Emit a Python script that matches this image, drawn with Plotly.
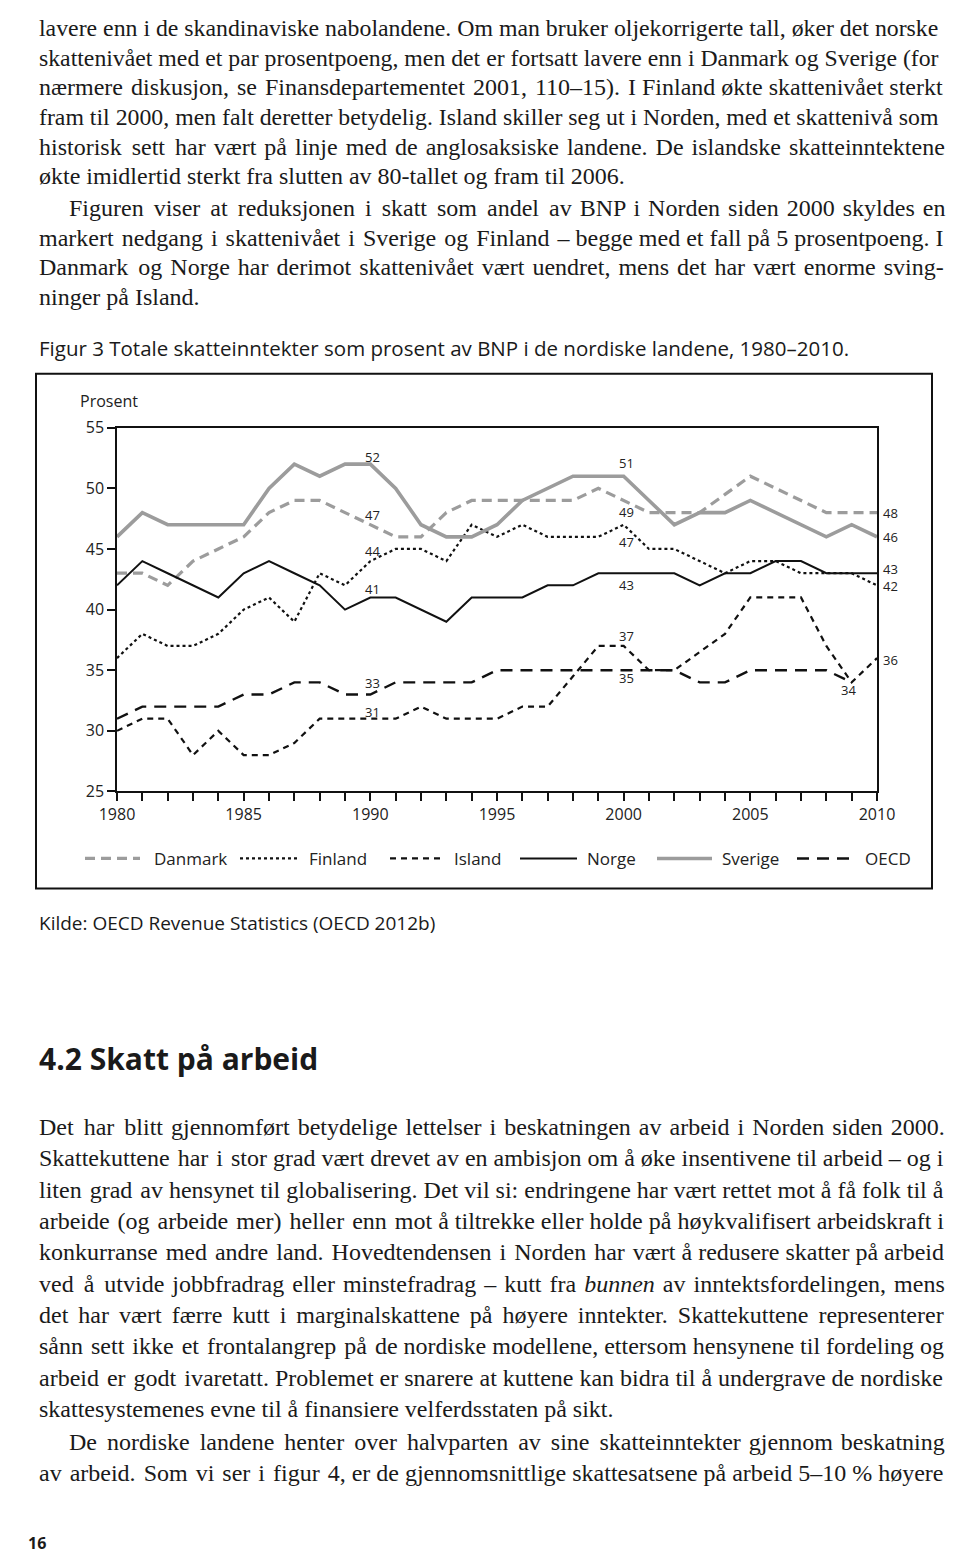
import plotly.graph_objects as go

W, H = 960, 1553

years = list(range(1980, 2011))

danmark = [43, 43, 42, 44, 45, 46, 48, 49, 49, 48, 47, 46, 46, 48, 49, 49, 49, 49, 49, 50,
           49, 48, 48, 48, 49.5, 51, 50, 49, 48, 48, 48]
finland = [36, 38, 37, 37, 38, 40, 41, 39, 43, 42, 44, 45, 45, 44, 47, 46, 47, 46, 46, 46,
           47, 45, 45, 44, 43, 44, 44, 43, 43, 43, 42]
island = [30, 31, 31, 28, 30, 28, 28, 29, 31, 31, 31, 31, 32, 31, 31, 31, 32, 32, 34.5, 37,
          37, 35, 35, 36.5, 38, 41, 41, 41, 37, 34, 36]
norge = [42, 44, 43, 42, 41, 43, 44, 43, 42, 40, 41, 41, 40, 39, 41, 41, 41, 42, 42, 43,
         43, 43, 43, 42, 43, 43, 44, 44, 43, 43, 43]
sverige = [46, 48, 47, 47, 47, 47, 50, 52, 51, 52, 52, 50, 47, 46, 46, 47, 49, 50, 51, 51,
           51, 49, 47, 48, 48, 49, 48, 47, 46, 47, 46]
oecd = [31, 32, 32, 32, 32, 33, 33, 34, 34, 33, 33, 34, 34, 34, 34, 35, 35, 35, 35, 35,
        35, 35, 35, 34, 34, 35, 35, 35, 35, 34, None]

series_names = ["Danmark", "Finland", "Island", "Norge", "Sverige", "OECD"]
series_values = [danmark, finland, island, norge, sverige, oecd]
series_styles = [
    dict(color="#9c9c9c", width=3.2, dash="10px,6px"),
    dict(color="#111111", width=2.2, dash="3px,3px"),
    dict(color="#111111", width=2.2, dash="6px,5px"),
    dict(color="#111111", width=2.0, dash="solid"),
    dict(color="#9c9c9c", width=3.6, dash="solid"),
    dict(color="#111111", width=2.4, dash="12px,8px"),
]

x_ticks = [1980, 1985, 1990, 1995, 2000, 2005, 2010]
y_ticks = [25, 30, 35, 40, 45, 50, 55]

value_labels = [
    ("Sverige", 1990, 2, 7, "center"),
    ("Danmark", 1990, 2, 10, "center"),
    ("Finland", 1990, 2, 10, "center"),
    ("Norge", 1990, 2, 8, "center"),
    ("OECD", 1990, 2, 11, "center"),
    ("Island", 1990, 2, 7, "center"),
    ("Sverige", 2000, 3, 13, "center"),
    ("Danmark", 2000, 3, -12, "center"),
    ("Finland", 2000, 3, -17, "center"),
    ("Norge", 2000, 3, -12, "center"),
    ("Island", 2000, 3, 10, "center"),
    ("OECD", 2000, 3, -8, "center"),
    ("Danmark", 2010, 4, 0, "left"),
    ("Sverige", 2010, 4, 0, "left"),
    ("Norge", 2010, 4, 4, "left"),
    ("Finland", 2010, 4, -1, "left"),
    ("Island", 2010, 4, -2, "left"),
    ("OECD", 2009, -3, -8, "center"),
]

# legend layout (picture pixels): sample start, sample end, text start
legend_pos = [(85, 140, 152), (240, 300, 307), (390, 445, 452),
              (520, 577, 585), (657, 712, 720), (797, 855, 863)]
LEGEND_Y = 858

# (x, y, text, justify) in picture pixels
text_top = [
    (37, 13, "lavere enn i de skandinaviske nabolandene. Om man bruker oljekorrigerte tall, øker det norske", True),
    (37, 44, "skattenivået med et par prosentpoeng, men det er fortsatt lavere enn i Danmark og Sverige (for", True),
    (37, 75, "nærmere diskusjon, se Finansdepartementet 2001, 110–15). I Finland økte skattenivået sterkt", True),
    (37, 106, "fram til 2000, men falt deretter betydelig. Island skiller seg ut i Norden, med et skattenivå som", True),
    (37, 138, "historisk sett har vært på linje med de anglosaksiske landene. De islandske skatteinntektene", True),
    (37, 169, "økte imidlertid sterkt fra slutten av 80-tallet og fram til 2006.", False),
    (67, 202, "Figuren viser at reduksjonen i skatt som andel av BNP i Norden siden 2000 skyldes en", True),
    (37, 234, "markert nedgang i skattenivået i Sverige og Finland – begge med et fall på 5 prosentpoeng. I", True),
    (37, 265, "Danmark og Norge har derimot skattenivået vært uendret, mens det har vært enorme sving-", True),
    (37, 296, "ninger på Island.", False),
]
text_bottom = [
    (37, 1127, "Det har blitt gjennomført betydelige lettelser i beskatningen av arbeid i Norden siden 2000.", True),
    (37, 1158, "Skattekuttene har i stor grad vært drevet av en ambisjon om å øke insentivene til arbeid – og i", True),
    (37, 1190, "liten grad av hensynet til globalisering. Det vil si: endringene har vært rettet mot å få folk til å", True),
    (37, 1221, "arbeide (og arbeide mer) heller enn mot å tiltrekke eller holde på høykvalifisert arbeidskraft i", True),
    (37, 1252, "konkurranse med andre land. Hovedtendensen i Norden har vært å redusere skatter på arbeid", True),
    (37, 1284, "ved å utvide jobbfradrag eller minstefradrag – kutt fra <i>bunnen</i> av inntektsfordelingen, mens", True),
    (37, 1315, "det har vært færre kutt i marginalskattene på høyere inntekter. Skattekuttene representerer", True),
    (37, 1346, "sånn sett ikke et frontalangrep på de nordiske modellene, ettersom hensynene til fordeling og", True),
    (37, 1378, "arbeid er godt ivaretatt. Problemet er snarere at kuttene kan bidra til å undergrave de nordiske", True),
    (37, 1409, "skattesystemenes evne til å finansiere velferdsstaten på sikt.", False),
    (67, 1442, "De nordiske landene henter over halvparten av sine skatteinntekter gjennom beskatning", True),
    (37, 1473, "av arbeid. Som vi ser i figur 4, er de gjennomsnittlige skattesatsene på arbeid 5–10 % høyere", True),
]

# ---- mapping from picture pixels to figure coordinates (measured rendering offset/scale)
SX, OX = 0.9625, 26.0
SY, OY = 0.9865, 18.0


def fx(p):
    return (p - OX) / SX


def fy(p):
    return (p - OY) / SY


def px(p):
    return min(max(fx(p), 0.0), W) / W


def py(p):
    return 1 - fy(p) / H


BODY_SIZE = 24
RIGHT_F = 956.5  # right edge of justified lines in figure px

_tw = dict(zip("abcdefghijklmnopqrstuvwxyz",
               [444, 500, 444, 500, 444, 333, 500, 500, 278, 278, 500, 278, 778,
                500, 500, 500, 500, 333, 389, 278, 500, 500, 722, 500, 500, 444]))
_tw.update(dict(zip("ABCDEFGHIJKLMNOPQRSTUVWXYZ",
                    [722, 667, 667, 722, 611, 556, 722, 722, 333, 389, 722, 611, 889,
                     722, 722, 556, 722, 667, 556, 611, 722, 722, 944, 722, 722, 611])))
_tw.update({c: 500 for c in "0123456789"})
_tw.update({" ": 250, ".": 250, ",": 250, ":": 278, ";": 278, "-": 333, "–": 500,
            "(": 333, ")": 333, "%": 833, "å": 444, "ø": 500, "æ": 667, "Å": 722,
            "Ø": 722, "Æ": 889})
K_CAL = 1.045


def text_width(s, size):
    s = s.replace("<i>", "").replace("</i>", "")
    return sum(_tw.get(c, 500) for c in s) * size / 1000.0 * K_CAL


HAIR = "\u200a"
HAIR_EM = 0.083


def justify(s, x0f, size):
    target = RIGHT_F - x0f
    nat = text_width(s, size)
    if nat > target:
        size = size * target / nat * 0.995
        return s, size
    parts = s.split(" ")
    gaps = len(parts) - 1
    total = int(round((target - nat) / (HAIR_EM * size)))
    if gaps <= 0 or total <= 0:
        return s, size
    base, rem = divmod(total, gaps)
    out = parts[0]
    for i, w in enumerate(parts[1:]):
        out += " " + HAIR * (base + (1 if i < rem else 0)) + w
    return out, size


fig = go.Figure()
for name, vals, st in zip(series_names, series_values, series_styles):
    fig.add_trace(go.Scatter(x=years, y=vals, mode="lines", name=name,
                             line=dict(color=st["color"], width=st["width"], dash=st["dash"]),
                             connectgaps=False, showlegend=False))

lookup = dict(zip(series_names, series_values))
annotations = []
for name, yr, xs, ys, anc in value_labels:
    v = lookup[name][years.index(yr)]
    annotations.append(dict(x=yr, y=v, xref="x", yref="y", text=str(int(round(v))),
                            showarrow=False, xanchor=anc, yanchor="middle",
                            xshift=xs, yshift=ys,
                            font=dict(family="Open Sans", size=13, color="#222")))

annotations.append(dict(x=px(78), y=py(400), xref="paper", yref="paper", text="Prosent",
                        showarrow=False, xanchor="left", yanchor="middle",
                        font=dict(family="Open Sans", size=16, color="#222")))

# top paragraph lines: first line cannot sit above the figure top, so compress slightly
top_first_f = 9.5
f0, f1 = fy(text_top[0][1]), fy(text_top[-1][1])
shrink = (f1 - top_first_f) / (f1 - f0)

serif = "Liberation Serif"


def add_body(x, yf, t, just):
    x0f = fx(x)
    tt, size = justify(t, x0f, BODY_SIZE) if just else (t, BODY_SIZE)
    annotations.append(dict(x=x0f / W, y=1 - yf / H, xref="paper", yref="paper", text=tt,
                            showarrow=False, xanchor="left", yanchor="middle",
                            font=dict(family=serif, size=size, color="#1a1a1a")))


for x, y, t, just in text_top:
    yf = top_first_f + (fy(y) - f0) * shrink
    add_body(x, yf, t, just)
for x, y, t, just in text_bottom:
    add_body(x, fy(y), t, just)

annotations.append(dict(x=px(37), y=py(347), xref="paper", yref="paper",
                        text="Figur 3 Totale skatteinntekter som prosent av BNP i de nordiske landene, 1980–2010.",
                        showarrow=False, xanchor="left", yanchor="middle",
                        font=dict(family="Open Sans", size=20.5, color="#1a1a1a")))
annotations.append(dict(x=px(37), y=py(923), xref="paper", yref="paper",
                        text="Kilde: OECD Revenue Statistics (OECD 2012b)",
                        showarrow=False, xanchor="left", yanchor="middle",
                        font=dict(family="Open Sans", size=19, color="#1a1a1a")))
annotations.append(dict(x=px(37), y=py(1058), xref="paper", yref="paper",
                        text="<b>4.2 Skatt på arbeid</b>",
                        showarrow=False, xanchor="left", yanchor="middle",
                        font=dict(family="Open Sans", size=30, color="#1a1a1a")))
annotations.append(dict(x=0.0005, y=py(1543), xref="paper", yref="paper",
                        text="<b>16</b>",
                        showarrow=False, xanchor="left", yanchor="middle",
                        font=dict(family="Open Sans", size=16, color="#1a1a1a")))

shapes = [dict(type="rect", xref="paper", yref="paper",
               x0=px(36), x1=px(932), y0=py(373), y1=py(888),
               line=dict(color="#111", width=2))]

# manual legend (longer line samples, as in the original)
for (s0, s1, t0), name, st in zip(legend_pos, series_names, series_styles):
    shapes.append(dict(type="line", xref="paper", yref="paper",
                       x0=px(s0), x1=px(s1), y0=py(LEGEND_Y), y1=py(LEGEND_Y),
                       line=dict(color=st["color"], width=st["width"], dash=st["dash"])))
    annotations.append(dict(x=px(t0), y=py(LEGEND_Y), xref="paper", yref="paper", text=name,
                            showarrow=False, xanchor="left", yanchor="middle",
                            font=dict(family="Open Sans", size=17, color="#222")))

fig.update_layout(
    width=W, height=H,
    margin=dict(l=0, r=0, t=0, b=0),
    paper_bgcolor="white", plot_bgcolor="white",
    showlegend=False,
    xaxis=dict(domain=[px(117), px(877)], range=[1980, 2010], tickvals=x_ticks,
               ticks="outside", ticklen=8, tickwidth=1.5, tickcolor="#111",
               minor=dict(dtick=1, ticks="outside", ticklen=8, tickwidth=1.5, tickcolor="#111",
                          showgrid=False),
               showline=True, linecolor="#111", linewidth=1.5, mirror=True,
               showgrid=False, zeroline=False,
               tickfont=dict(family="Open Sans", size=16, color="#222")),
    yaxis=dict(domain=[py(791), py(427)], range=[25, 55], tickvals=y_ticks,
               ticks="outside", ticklen=8, tickwidth=1.5, tickcolor="#111",
               showline=True, linecolor="#111", linewidth=1.5, mirror=True,
               showgrid=False, zeroline=False,
               tickfont=dict(family="Open Sans", size=16, color="#222")),
    annotations=annotations,
    shapes=shapes,
)

fig.write_html("out.html")
